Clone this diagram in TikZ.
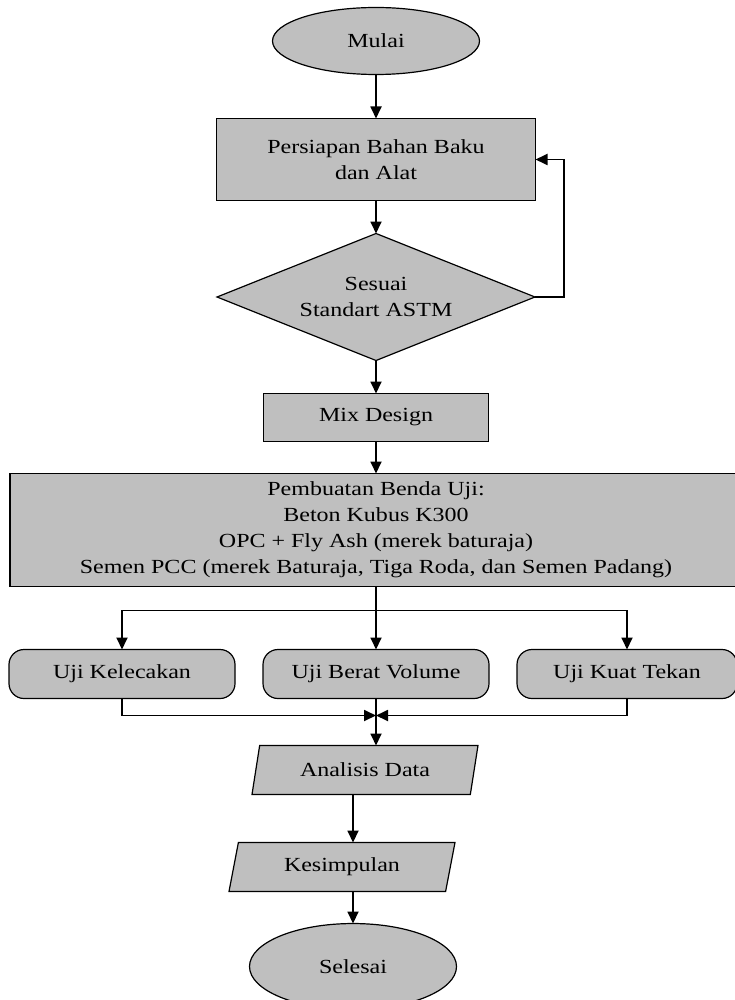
\documentclass[tikz,border=0pt]{standalone}
\usepackage{fontspec}
\setmainfont[FakeStretch=1.2]{Liberation Serif}
\usepackage{tikz}
\usetikzlibrary{arrows.meta, positioning, shapes.geometric}
\definecolor{abuabu}{RGB}{191,191,191}
\tikzset{
    kotak/.style={
        draw=black, line width=1.2pt,
        fill=abuabu,
        align=center,
        inner sep=2pt, outer sep=0pt,
        font=\fontsize{20}{26}\selectfont
    },
    terminal/.style={kotak, ellipse, minimum width=207pt, minimum height=67pt},
    proses/.style={kotak, rectangle},
    keputusan/.style={kotak, diamond, aspect=2.5, inner sep=0pt,
        minimum width=318pt, minimum height=127pt},
    uji/.style={kotak, rectangle, rounded corners=15pt,
        minimum width=226pt, minimum height=49pt},
    data/.style={kotak, trapezium, trapezium left angle=67,
        trapezium right angle=113, trapezium stretches body,
        minimum width=226pt, minimum height=49pt},
    panah/.style={-{Triangle[length=12pt, width=11pt]}, line width=1.8pt}
}

\begin{document}
\begin{tikzpicture}

    \useasboundingbox (0,0) rectangle (735pt,-1000pt);

    \node[terminal] (mulai) at (376pt,-41pt) {Mulai};

    \node[proses, minimum width=319pt, minimum height=82pt,
        below=44pt of mulai] (persiapan) {Persiapan Bahan Baku\\dan Alat};

    \node[keputusan, below=33pt of persiapan] (sesuai) {Sesuai\\Standart ASTM};

    \node[proses, minimum width=225pt, minimum height=48pt,
        below=33pt of sesuai] (mix) {Mix Design};

    \node[proses, minimum width=732pt, minimum height=113pt,
        below=32pt of mix] (pembuatan) {
        Pembuatan Benda Uji:\\
        Beton Kubus K300\\
        OPC + Fly Ash (merek baturaja)\\
        Semen PCC (merek Baturaja, Tiga Roda, dan Semen Padang)
    };

    \node[uji, below=63pt of pembuatan] (berat) {Uji Berat Volume};
    \node[uji, left=28pt of berat] (kelecakan) {Uji Kelecakan};
    \node[uji, right=28pt of berat, minimum width=220pt] (kuat) {Uji Kuat Tekan};

    \coordinate[below=24pt of pembuatan] (cabang);
    \coordinate[below=17pt of berat] (gabung);

    \node[data, below=47pt of berat, xshift=-11pt] (analisis) {Analisis Data};
    \node[data, below=48pt of analisis, xshift=-23pt] (kesimpulan) {Kesimpulan};
    \node[terminal, minimum height=86pt, below=32pt of kesimpulan,
        xshift=11pt] (selesai) {Selesai};

    % alur utama
    \draw[panah] (mulai) -- (persiapan);
    \draw[panah] (persiapan) -- (sesuai);
    \draw[panah] (sesuai.east) -- ++(29pt,0) |- (persiapan.east);
    \draw[panah] (sesuai) -- (mix);
    \draw[panah] (mix) -- (pembuatan);

    % percabangan pengujian
    \draw[line width=1.8pt] (pembuatan) -- (cabang);
    \draw[panah] (cabang) -| (kelecakan);
    \draw[panah] (cabang) -- (berat);
    \draw[panah] (cabang) -| (kuat);

    \draw[panah] (kelecakan) |- (gabung);
    \draw[panah] (kuat) |- (gabung);
    \draw[panah] (berat) -- (berat.south |- analisis.north);

    \draw[panah] (analisis.south -| selesai) -- (kesimpulan.north -| selesai);
    \draw[panah] (kesimpulan.south -| selesai) -- (selesai);

\end{tikzpicture}
\end{document}
